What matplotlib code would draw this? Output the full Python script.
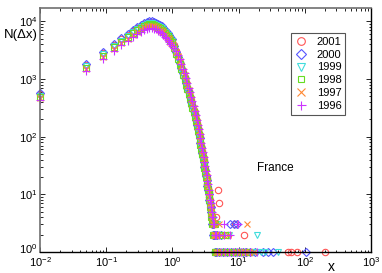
import matplotlib
matplotlib.use("Agg")
import matplotlib.pyplot as plt
from matplotlib.ticker import LogLocator, NullFormatter
from matplotlib.transforms import ScaledTranslation

plt.rcParams['font.family'] = ['Liberation Sans', 'DejaVu Sans']
plt.rcParams['mathtext.fontset'] = 'custom'
plt.rcParams['mathtext.rm'] = 'Liberation Sans'
plt.rcParams['mathtext.it'] = 'Liberation Sans:italic'

# bin positions (width 0.04 up to 1, then every second bin)
x_bins = [0.01, 0.05, 0.09, 0.13, 0.17, 0.21, 0.25, 0.29, 0.33, 0.37, 0.41, 0.45,
          0.49, 0.53, 0.57, 0.61, 0.65, 0.69, 0.73, 0.77, 0.81, 0.85, 0.89, 0.93,
          0.97, 1.05, 1.13, 1.21, 1.29, 1.37, 1.45, 1.53, 1.61, 1.69, 1.77, 1.85,
          1.93, 2.01, 2.09, 2.17, 2.25, 2.33, 2.41, 2.49, 2.57, 2.65, 2.73, 2.81,
          2.89, 2.97, 3.05, 3.13, 3.21, 3.29, 3.37, 3.45, 3.53, 3.61, 3.69, 3.77,
          3.85, 3.93, 4.01, 4.09, 4.17, 4.25, 4.33, 4.41, 4.49]

years = ['2001', '2000', '1999', '1998', '1997', '1996']

n_2001 = [540, 1720, 2800, 3900, 4850, 5800, 6800, 7650, 8400, 9050, 9500, 9700,
          9700, 9500, 9150, 8750, 8300, 7850, 7450, 6900, 6450, 6050, 5600, 5150,
          4750, 3850, 3050, 2460, 2000, 1620, 1320, 1100, 890, 740, 615, 510, 425,
          355, 295, 245, 204, 170, 141, 117, 98, 81, 68, 56, 47, 39, 32, 27, 22,
          19, 15, 13, 11, 9, 8, 6, 5, 4, 4, 3, 3, 2, 2, 2, 1]
n_2000 = [560, 1790, 2920, 4030, 5050, 6050, 7050, 7950, 8750, 9400, 9850, 10100,
          10050, 9850, 9500, 9050, 8600, 8150, 7700, 7150, 6700, 6250, 5800, 5350,
          4900, 3800, 2980, 2360, 1910, 1540, 1250, 1045, 845, 703, 584, 485, 404,
          337, 280, 233, 194, 162, 134, 111, 93, 77, 65, 53, 45, 37, 30, 26, 21,
          18, 14, 12, 10, 8, 7, 6, 5, 4, 3, 3, 2, 2, 2, 1, 1]
n_1999 = [515, 1650, 2680, 3700, 4640, 5560, 6490, 7300, 8030, 8650, 9050, 9270,
          9270, 9060, 8750, 8340, 7930, 7520, 7100, 6590, 6180, 5770, 5350, 4940,
          4530, 3450, 2700, 2150, 1740, 1410, 1150, 957, 774, 644, 535, 444, 370,
          309, 257, 213, 177, 148, 123, 102, 85, 70, 59, 49, 41, 34, 28, 23, 19,
          16, 13, 11, 9, 7, 6, 5, 4, 3, 3, 2, 2, 2, 1, 1, 1]
n_1998 = [490, 1570, 2550, 3530, 4410, 5290, 6170, 6960, 7640, 8230, 8620, 8820,
          8820, 8620, 8330, 7940, 7550, 7150, 6760, 6270, 5880, 5490, 5100, 4700,
          4310, 3500, 2760, 2210, 1800, 1460, 1190, 990, 800, 666, 554, 459, 383,
          320, 266, 221, 184, 153, 127, 105, 88, 73, 61, 50, 42, 35, 29, 24, 20,
          17, 14, 12, 10, 8, 6, 5, 4, 4, 3, 3, 2, 2, 1, 1, 1]
n_1997 = [465, 1490, 2420, 3350, 4190, 5020, 5860, 6600, 7250, 7810, 8180, 8370,
          8370, 8180, 7900, 7530, 7160, 6790, 6420, 5950, 5580, 5210, 4840, 4460,
          4090, 3600, 2980, 2500, 2080, 1700, 1390, 1155, 935, 777, 646, 536, 446,
          373, 310, 257, 214, 179, 148, 123, 103, 85, 71, 59, 49, 41, 34, 28, 23,
          20, 16, 14, 11, 9, 7, 6, 5, 4, 4, 3, 3, 2, 2, 2, 1]
n_1996 = [425, 1360, 2210, 3060, 3830, 4590, 5360, 6040, 6630, 7140, 7480, 7650,
          7650, 7480, 7230, 6890, 6550, 6210, 5870, 5440, 5100, 4760, 4420, 4080,
          3740, 3500, 3050, 2600, 2200, 1820, 1500, 1260, 1020, 850, 710, 590, 490,
          410, 340, 282, 235, 196, 162, 135, 113, 93, 78, 64, 54, 45, 37, 31, 25,
          22, 17, 15, 12, 10, 8, 7, 6, 5, 4, 4, 3, 3, 2, 2, 2]

# sparse tail of each year (large jumps)
tail_x_2001 = [4.6, 4.9, 5.0, 4.7, 5.3, 6.1, 7.0, 8.2, 8.9, 9.5, 11.0, 12.1, 13.5, 16.0, 56.6, 62.0, 75.0, 202.0]
tail_y_2001 = [4, 12, 7, 2, 1, 1, 2, 1, 3, 1, 1, 2, 1, 1, 1, 1, 1, 1]
tail_x_2000 = [4.2, 4.8, 5.5, 7.4, 8.4, 9.4, 5.0, 5.8, 6.7, 7.6, 8.8, 10.0, 11.5, 13.0, 15.0, 17.7, 23.6, 28.1, 33.6, 106.0]
tail_y_2000 = [2, 2, 2, 3, 3, 3, 1, 1, 1, 1, 1, 1, 1, 1, 1, 1, 1, 1, 1, 1]
tail_x_1999 = [4.7, 5.8, 7.1, 5.2, 6.3, 7.3, 8.5, 10.0, 12.0, 14.0, 16.5, 19.0, 22.0, 25.0, 39.5, 18.7]
tail_y_1999 = [3, 2, 2, 1, 1, 1, 1, 1, 1, 1, 1, 1, 1, 1, 1, 2]
tail_x_1998 = [4.2, 4.4, 4.6, 5.3, 6.2, 4.8, 5.6, 6.4, 7.4, 8.6, 10.0, 11.8, 14.0]
tail_y_1998 = [3, 3, 2, 2, 2, 1, 1, 1, 1, 1, 1, 1, 1]
tail_x_1997 = [5.0, 13.4, 4.5, 5.5, 7.0, 4.9, 5.7, 6.6, 7.8, 9.0, 10.6, 12.5, 14.5, 17.0]
tail_y_1997 = [3, 3, 2, 2, 2, 1, 1, 1, 1, 1, 1, 1, 1, 1]
tail_x_1996 = [4.3, 6.0, 9.8, 4.4, 5.1, 6.0, 7.5, 4.7, 5.4, 6.2, 7.1, 8.1, 9.3, 10.8, 12.5, 15.0, 19.0]
tail_y_1996 = [3, 3, 3, 2, 2, 2, 2, 1, 1, 1, 1, 1, 1, 1, 1, 1, 1]

counts = [n_2001, n_2000, n_1999, n_1998, n_1997, n_1996]
tails_x = [tail_x_2001, tail_x_2000, tail_x_1999, tail_x_1998, tail_x_1997, tail_x_1996]
tails_y = [tail_y_2001, tail_y_2000, tail_y_1999, tail_y_1998, tail_y_1997, tail_y_1996]
markers = ['o', 'D', 'v', 's', 'x', '+']
colors = ['#ff5555', '#5555ff', '#40dcdc', '#66dd22', '#ff8833', '#cc33ff']
sizes = [4.6, 4.0, 4.6, 4.0, 4.4, 5.4]

fig = plt.figure(figsize=(3.82, 2.73), dpi=100)
ax = fig.add_axes([40 / 382, 21 / 273, 331 / 382, 244 / 273])

for i in range(len(years)):
    xs = x_bins + tails_x[i]
    ys = counts[i] + tails_y[i]
    ax.plot(xs, ys, linestyle='none', marker=markers[i], markersize=sizes[i],
            markerfacecolor='none', markeredgecolor=colors[i],
            markeredgewidth=0.8, label=years[i], clip_on=False)

ax.set_xscale('log')
ax.set_yscale('log')
ax.set_xlim(1e-2, 1e3)
ax.set_ylim(1, 1.7e4)

ax.xaxis.set_major_locator(LogLocator(base=10, numticks=10))
ax.yaxis.set_major_locator(LogLocator(base=10, numticks=10))
ax.xaxis.set_minor_locator(LogLocator(base=10, subs=range(2, 10), numticks=20))
ax.yaxis.set_minor_locator(LogLocator(base=10, subs=range(2, 10), numticks=20))
ax.xaxis.set_minor_formatter(NullFormatter())
ax.yaxis.set_minor_formatter(NullFormatter())
ax.tick_params(which='both', direction='in', top=True, right=True,
               labelsize=8, width=0.6)
ax.tick_params(axis='x', pad=2.5)
ax.tick_params(axis='y', pad=2)
ax.tick_params(which='major', length=3.5)
ax.tick_params(which='minor', length=1.8)

for side in ['left', 'top']:
    ax.spines[side].set_color('#707070')
    ax.spines[side].set_linewidth(1.2)
for side in ['bottom', 'right']:
    ax.spines[side].set_color('black')
    ax.spines[side].set_linewidth(1.0)

ax.text(0.656, 0.345, 'France', transform=ax.transAxes, fontsize=8.5,
        ha='left', va='center')
fig.text(4 / 382, 1 - 35 / 273, 'N(\u0394x)', fontsize=9.5, ha='left', va='center')
fig.text(331 / 382, 1 - 267 / 273, 'x', fontsize=10, ha='center', va='center')

leg = ax.legend(loc='upper left', bbox_to_anchor=(0.757, 0.8975),
                borderaxespad=0, fontsize=8, fancybox=False, framealpha=1,
                edgecolor='#555555', handletextpad=0.8, labelspacing=0.25,
                borderpad=0.35, handlelength=1.2, markerscale=1.2)
leg.get_frame().set_linewidth(0.8)
leg.set_zorder(5)

# lift the lowest y label a little so it clears the x labels
fig.canvas.draw()
for tick in ax.yaxis.get_major_ticks():
    if abs(tick.get_loc() - 1) < 1e-9:
        tick.label1.set_transform(tick.label1.get_transform()
                                  + ScaledTranslation(0, 3 / 72, fig.dpi_scale_trans))

fig.savefig('out.png', dpi=100)
